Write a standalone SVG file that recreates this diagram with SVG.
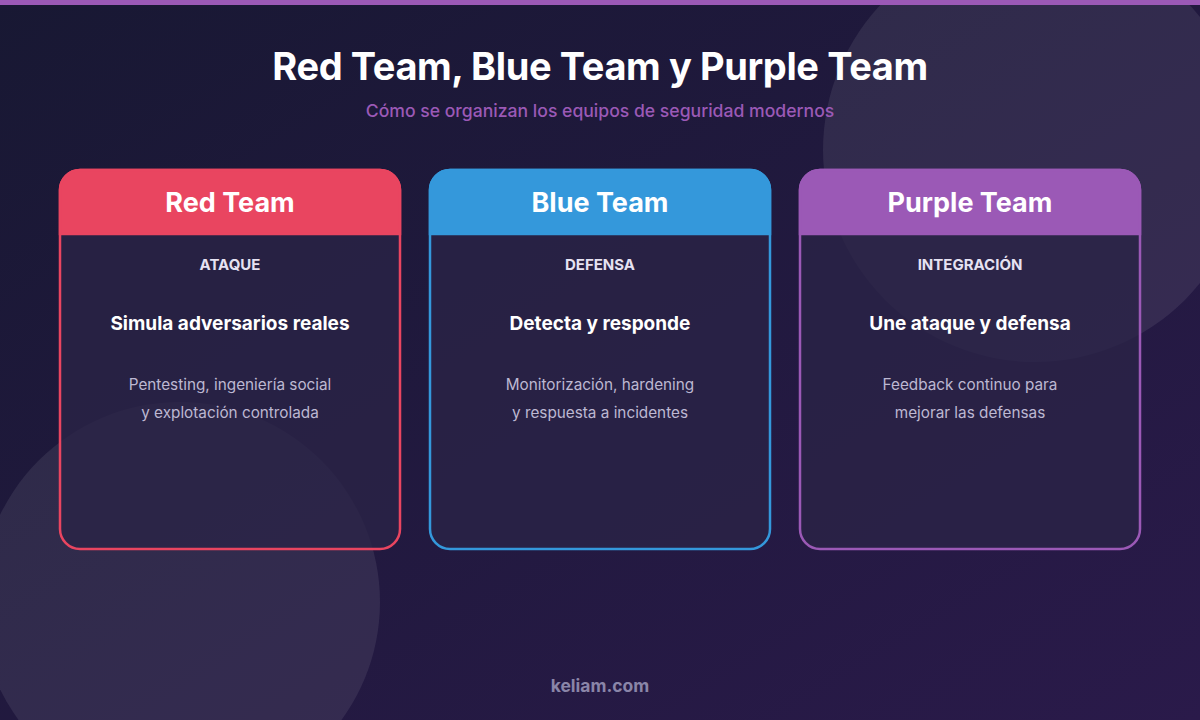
<svg xmlns="http://www.w3.org/2000/svg" width="1200" height="720" viewBox="0 0 1200 720">
<defs>
<linearGradient id="bg" x1="0" y1="0" x2="1" y2="1">
<stop offset="0" stop-color="#181833"/>
<stop offset="1" stop-color="#2a1a4a"/>
</linearGradient>
<style>
.t{font-family:Inter,"Noto Sans","Liberation Sans",sans-serif;text-anchor:middle}
.h{font-size:27px;font-weight:700;fill:#ffffff}
.k{font-size:15px;font-weight:700;fill:#e6e2f2}
.s{font-size:19px;font-weight:700;fill:#ffffff}
.d{font-size:15.3px;font-weight:400;fill:#bdb8d2}
.body{fill:#2a2446;fill-opacity:0.78;stroke-width:2.5}
</style>
</defs>
<rect width="1200" height="720" fill="url(#bg)"/>
<circle cx="1035" cy="150" r="212" fill="#ffffff" fill-opacity="0.08"/>
<circle cx="180" cy="602" r="200" fill="#ffffff" fill-opacity="0.08"/>
<rect width="1200" height="5" fill="#9b59b6"/>
<text class="t" x="600" y="80" font-size="38" font-weight="700" fill="#ffffff" letter-spacing="-0.4">Red Team, Blue Team y Purple Team</text>
<text class="t" x="600" y="117" font-size="17.6" font-weight="500" fill="#9b59b6">Cómo se organizan los equipos de seguridad modernos</text>
<g id="red">
<rect class="body" x="60" y="170" width="340" height="379" rx="20" stroke="#e94560"/>
<path d="M60,190 a20,20 0 0 1 20,-20 h300 a20,20 0 0 1 20,20 v44 h-340 z" fill="#e94560" stroke="#e94560" stroke-width="2.5"/>
<text class="t h" x="230" y="212">Red Team</text>
<text class="t k" x="230" y="270">ATAQUE</text>
<text class="t s" x="230" y="330">Simula adversarios reales</text>
<text class="t d" x="230" y="390">Pentesting, ingeniería social</text>
<text class="t d" x="230" y="418">y explotación controlada</text>
</g>
<g id="blue">
<rect class="body" x="430" y="170" width="340" height="379" rx="20" stroke="#3498db"/>
<path d="M430,190 a20,20 0 0 1 20,-20 h300 a20,20 0 0 1 20,20 v44 h-340 z" fill="#3498db" stroke="#3498db" stroke-width="2.5"/>
<text class="t h" x="600" y="212">Blue Team</text>
<text class="t k" x="600" y="270">DEFENSA</text>
<text class="t s" x="600" y="330">Detecta y responde</text>
<text class="t d" x="600" y="390">Monitorización, hardening</text>
<text class="t d" x="600" y="418">y respuesta a incidentes</text>
</g>
<g id="purple">
<rect class="body" x="800" y="170" width="340" height="379" rx="20" stroke="#9b59b6"/>
<path d="M800,190 a20,20 0 0 1 20,-20 h300 a20,20 0 0 1 20,20 v44 h-340 z" fill="#9b59b6" stroke="#9b59b6" stroke-width="2.5"/>
<text class="t h" x="970" y="212">Purple Team</text>
<text class="t k" x="970" y="270">INTEGRACIÓN</text>
<text class="t s" x="970" y="330">Une ataque y defensa</text>
<text class="t d" x="970" y="390">Feedback continuo para</text>
<text class="t d" x="970" y="418">mejorar las defensas</text>
</g>
<g id="connectors"/>
<text class="t" x="600" y="692" font-size="17.5" font-weight="700" fill="#8a85a8">keliam.com</text>
</svg>
